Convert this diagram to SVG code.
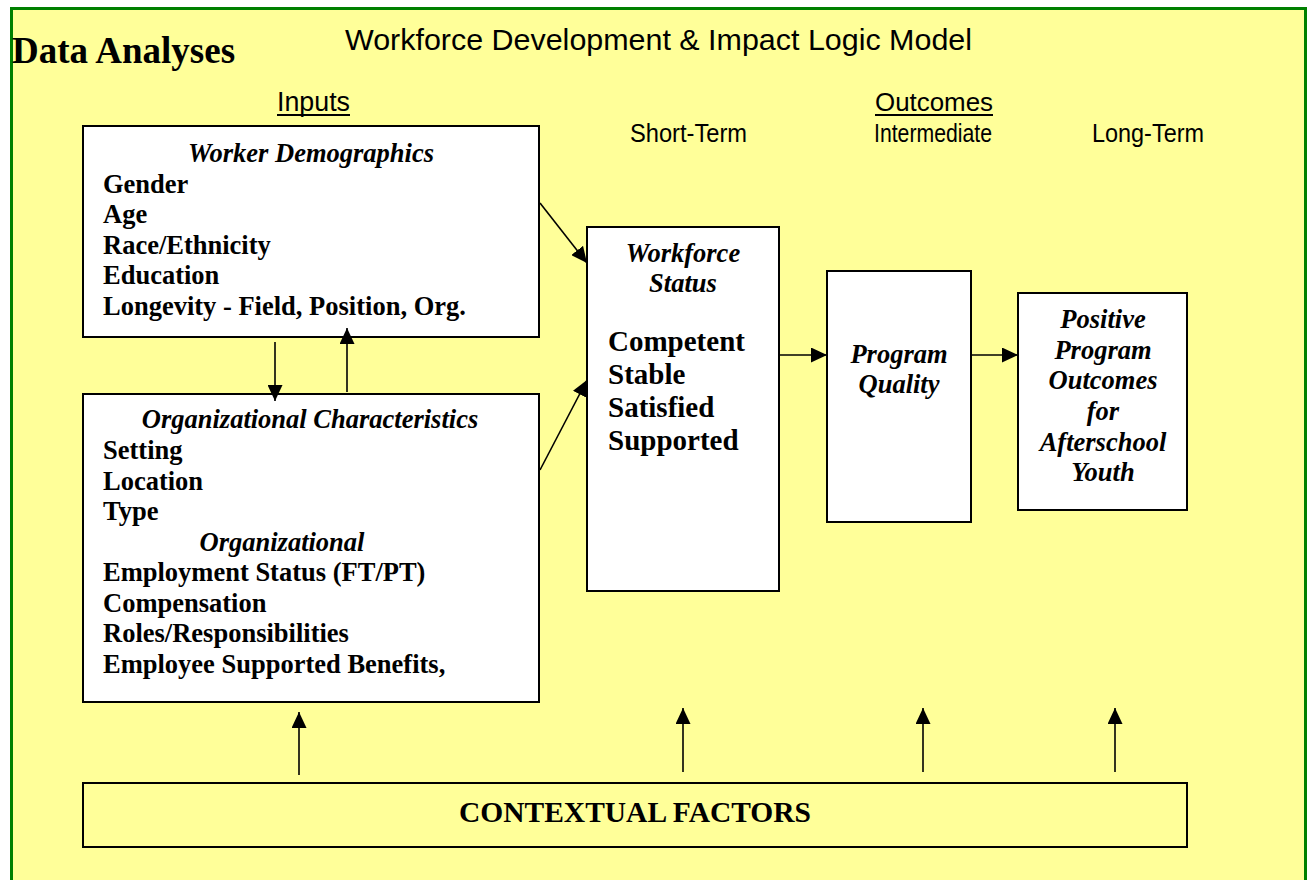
<svg xmlns="http://www.w3.org/2000/svg" width="1308" height="880" viewBox="0 0 1308 880">
<style>
.sans{font-family:"Liberation Sans",Arial,sans-serif;fill:#000}
.serif{font-family:"Liberation Serif","Times New Roman",serif;fill:#000;font-weight:bold}
.it{font-style:italic}
.box{fill:#fff;stroke:#000;stroke-width:2}
.ctx{fill:#FFFF99;stroke:#000;stroke-width:2}
.conn line{stroke:#000;stroke-width:1.6;marker-end:url(#ah)}
.b26{font-size:26.5px}
.b29{font-size:29px}
</style>
<defs>
<marker id="ah" markerUnits="userSpaceOnUse" markerWidth="17" markerHeight="15" refX="16" refY="7.5" orient="auto" viewBox="0 0 17 15">
<path d="M0,0 L16,7.5 L0,15 z" fill="#000"/>
</marker>
</defs>
<rect x="0" y="0" width="1308" height="880" fill="#fff"/>
<rect x="11.5" y="8.5" width="1294" height="884" fill="#FFFF99" stroke="#008000" stroke-width="3"/>

<g id="titles">
<text class="serif" x="12" y="63" font-size="37">Data Analyses</text>
<text class="sans" x="345" y="50" font-size="30" textLength="627" lengthAdjust="spacingAndGlyphs">Workforce Development &amp; Impact Logic Model</text>
<text class="sans" x="277" y="111" font-size="27" textLength="73" lengthAdjust="spacingAndGlyphs">Inputs</text>
<line x1="277" y1="115" x2="350" y2="115" stroke="#000" stroke-width="2"/>
<text class="sans" x="875" y="111" font-size="26" textLength="118" lengthAdjust="spacingAndGlyphs">Outcomes</text>
<line x1="875" y1="115" x2="993" y2="115" stroke="#000" stroke-width="2"/>
<text class="sans" x="630" y="142" font-size="26" textLength="117" lengthAdjust="spacingAndGlyphs">Short-Term</text>
<text class="sans" x="874" y="142" font-size="26" textLength="118" lengthAdjust="spacingAndGlyphs">Intermediate</text>
<text class="sans" x="1092" y="142" font-size="26" textLength="112" lengthAdjust="spacingAndGlyphs">Long-Term</text>
</g>

<g id="worker-demographics">
<rect class="box" x="83" y="126" width="456" height="211"/>
<text class="serif it b26" x="311" y="162" text-anchor="middle">Worker Demographics</text>
<text class="serif b26" x="103" y="192.5">Gender</text>
<text class="serif b26" x="103" y="223">Age</text>
<text class="serif b26" x="103" y="253.5">Race/Ethnicity</text>
<text class="serif b26" x="103" y="284">Education</text>
<text class="serif b26" x="103" y="314.5">Longevity - Field, Position, Org.</text>
</g>

<g id="organizational-characteristics">
<rect class="box" x="83" y="394" width="456" height="308"/>
<text class="serif it b26" x="310" y="428" text-anchor="middle">Organizational Characteristics</text>
<text class="serif b26" x="103" y="459">Setting</text>
<text class="serif b26" x="103" y="489.5">Location</text>
<text class="serif b26" x="103" y="520">Type</text>
<text class="serif it b26" x="282" y="550.5" text-anchor="middle">Organizational</text>
<text class="serif b26" x="103" y="581">Employment Status (FT/PT)</text>
<text class="serif b26" x="103" y="611.5">Compensation</text>
<text class="serif b26" x="103" y="642">Roles/Responsibilities</text>
<text class="serif b26" x="103" y="672.5">Employee Supported Benefits,</text>
</g>

<g id="workforce-status">
<rect class="box" x="587" y="227" width="192" height="364"/>
<text class="serif it b26" x="683" y="262" text-anchor="middle">Workforce</text>
<text class="serif it b26" x="683" y="292" text-anchor="middle">Status</text>
<text class="serif b29" x="608" y="351">Competent</text>
<text class="serif b29" x="608" y="384">Stable</text>
<text class="serif b29" x="608" y="417">Satisfied</text>
<text class="serif b29" x="608" y="450">Supported</text>
</g>

<g id="program-quality">
<rect class="box" x="827" y="271" width="144" height="251"/>
<text class="serif it b26" x="899" y="363" text-anchor="middle">Program</text>
<text class="serif it b26" x="899" y="393" text-anchor="middle">Quality</text>
</g>

<g id="positive-outcomes">
<rect class="box" x="1018" y="293" width="169" height="217"/>
<text class="serif it b26" x="1103" y="328" text-anchor="middle">Positive</text>
<text class="serif it b26" x="1103" y="358.5" text-anchor="middle">Program</text>
<text class="serif it b26" x="1103" y="389" text-anchor="middle">Outcomes</text>
<text class="serif it b26" x="1103" y="419.5" text-anchor="middle">for</text>
<text class="serif it b26" x="1103" y="450.5" text-anchor="middle">Afterschool</text>
<text class="serif it b26" x="1103" y="481" text-anchor="middle">Youth</text>
</g>

<g id="contextual-factors">
<rect class="ctx" x="83" y="783" width="1104" height="64"/>
<text class="serif" x="635" y="822" font-size="29" text-anchor="middle" textLength="352" lengthAdjust="spacingAndGlyphs">CONTEXTUAL FACTORS</text>
</g>

<g id="connectors" class="conn">
<line x1="540" y1="203" x2="587" y2="263"/>
<line x1="540" y1="470" x2="587" y2="380"/>
<line x1="275" y1="342" x2="275" y2="401"/>
<line x1="347" y1="392" x2="347" y2="328"/>
<line x1="779" y1="355" x2="827" y2="355"/>
<line x1="971" y1="355" x2="1018" y2="355"/>
<line x1="299" y1="775" x2="299" y2="712"/>
<line x1="683" y1="772" x2="683" y2="708"/>
<line x1="923" y1="772" x2="923" y2="708"/>
<line x1="1115" y1="772" x2="1115" y2="708"/>
</g>
</svg>
